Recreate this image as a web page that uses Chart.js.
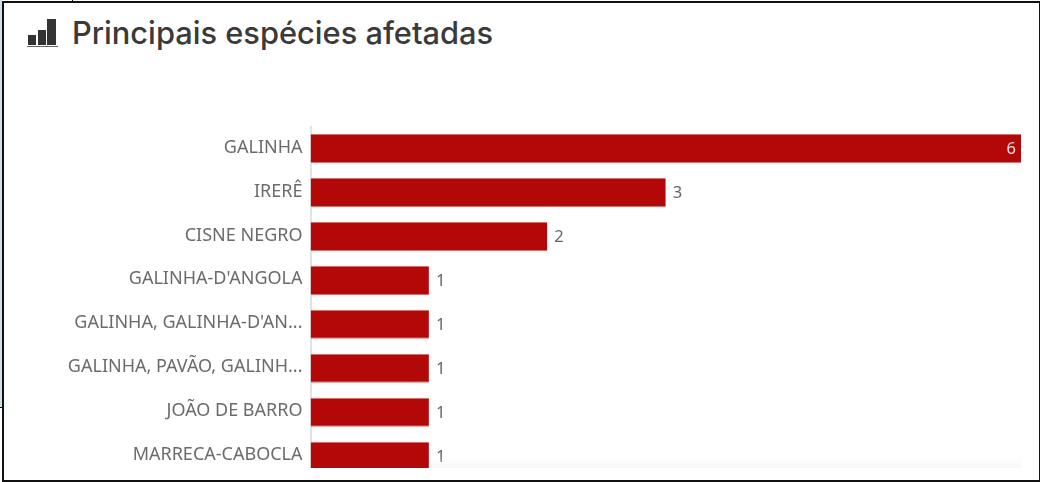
<!DOCTYPE html>
<html lang="pt">
<head>
<meta charset="utf-8">
<script src="https://cdn.jsdelivr.net/npm/chart.js@4"></script>
<style>
html,body{margin:0;padding:0;background:#fff;width:1041px;height:482px;overflow:hidden}
#frame{position:absolute;left:2px;top:1px;width:1035px;height:477px;border:2px solid #111;border-right-width:1.5px;box-sizing:content-box}
#strip{position:absolute;left:0;top:0;width:2px;height:407px;background:#cfe0ea;border-bottom:1px solid #111}
#tick{position:absolute;left:72px;top:0;width:1px;height:2px;background:#111}
#title{position:absolute;left:72px;top:13px;font:500 30.8px/40px Inter,sans-serif;color:#3a3a3a;white-space:nowrap}
#icon{position:absolute;left:27px;top:17px;width:31px;height:30px}
#icon i{position:absolute;background:#333;bottom:2px}
#icon b{position:absolute;left:0;right:0;bottom:0;height:1.5px;background:#666}
#clip{position:absolute;left:0;top:0;width:1041px;height:467.5px;overflow:hidden}
#wrap{position:absolute;left:0;top:0;width:1041px;height:500px}
#fade{position:absolute;left:430px;top:456px;width:591px;height:11.5px;background:linear-gradient(to bottom,rgba(240,240,240,0),rgba(240,240,240,.5))}
</style>
</head>
<body>
<div id="strip"></div><div id="tick"></div>
<div id="frame"></div>
<div id="icon"><i style="left:1px;width:8px;height:10px"></i><i style="left:11px;width:8px;height:15px"></i><i style="left:20px;width:9px;height:26px"></i><b></b></div>
<div id="title">Principais espécies afetadas</div>
<div id="clip"><div id="wrap"><canvas id="c" width="1041" height="497"></canvas></div><div id="fade"></div></div>
<script>
const categories = ["GALINHA","IRERÊ","CISNE NEGRO","GALINHA-D'ANGOLA","GALINHA, GALINHA-D'AN...","GALINHA, PAVÃO, GALINH...","JOÃO DE BARRO","MARRECA-CABOCLA"];
const values = [6,3,2,1,1,1,1,1];

const valueLabels = {
  id:'valueLabels',
  afterDatasetsDraw(chart){
    const ctx = chart.ctx, meta = chart.getDatasetMeta(0);
    ctx.save();
    ctx.font = '16.5px "Noto Sans",sans-serif';
    ctx.textBaseline = 'middle';
    meta.data.forEach((bar,i)=>{
      const inside = values[i] === chart.scales.x.max;
      ctx.fillStyle = inside ? '#f0dcdc' : '#666666';
      ctx.textAlign = inside ? 'right' : 'left';
      ctx.fillText(String(values[i]), inside ? bar.x - 5 : bar.x + 7, bar.y + 1);
    });
    ctx.restore();
  }
};

new Chart(document.getElementById('c'),{
  type:'bar',
  data:{labels:categories,datasets:[{data:values,backgroundColor:'#b30808',borderColor:'#d9716f',borderWidth:{top:1,bottom:1},borderSkipped:false,barPercentage:0.66,categoryPercentage:1}]},
  plugins:[valueLabels],
  options:{
    indexAxis:'y',responsive:false,animation:false,devicePixelRatio:1,
    layout:{padding:{left:0,right:20,top:126.5,bottom:3.5}},
    plugins:{legend:{display:false},tooltip:{enabled:false},title:{display:false}},
    scales:{
      x:{display:false,min:0,max:6},
      y:{
        afterFit(s){s.width=310.5;},
        grid:{display:false,drawTicks:false},
        border:{display:true,color:'#e2e2e2',width:2},
        ticks:{autoSkip:false,padding:8,labelOffset:-1,color:'#6b6b6b',font:{family:'"Noto Sans",sans-serif',size:18},crossAlign:'near'}
      }
    }
  }
});
</script>
</body>
</html>
